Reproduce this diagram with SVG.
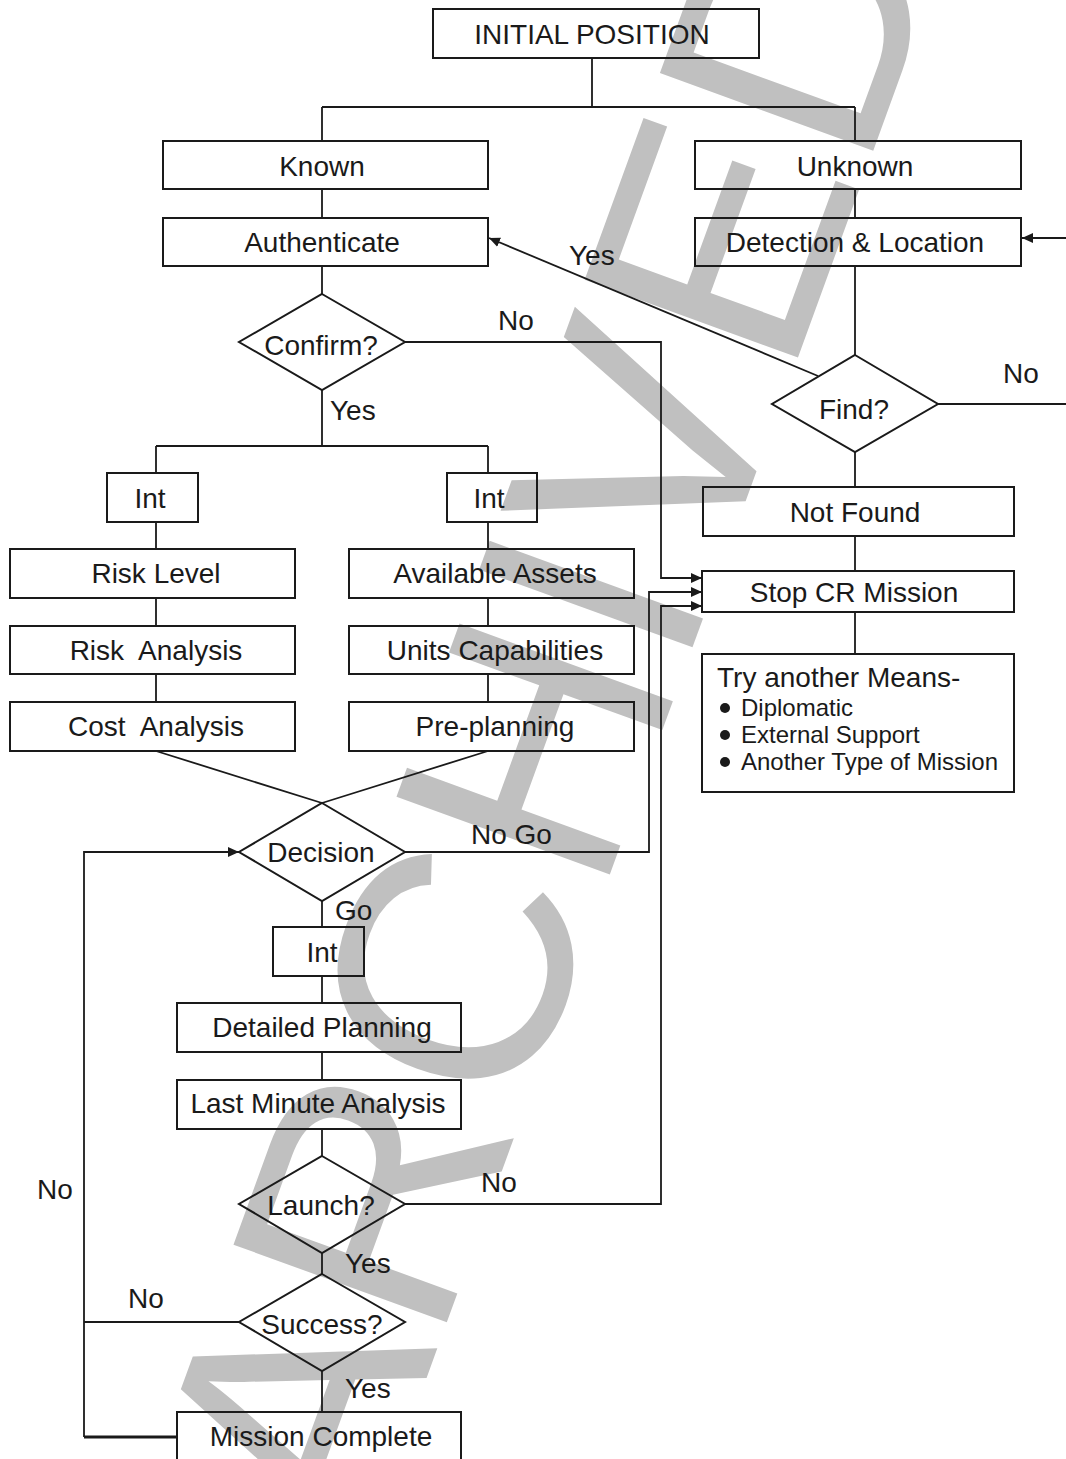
<svg xmlns="http://www.w3.org/2000/svg" width="1066" height="1459" viewBox="0 0 1066 1459">
<style>
.box{fill:none;stroke:#1a1a1a;stroke-width:2}
.ln{fill:none;stroke:#1a1a1a;stroke-width:1.8}
.t{font-family:"Liberation Sans",Arial,sans-serif;font-size:28px;fill:#1a1a1a;text-anchor:middle}
.l{font-family:"Liberation Sans",Arial,sans-serif;font-size:28px;fill:#1a1a1a}
.s{font-family:"Liberation Sans",Arial,sans-serif;font-size:24px;fill:#1a1a1a}
.wm{font-family:"Liberation Sans",Arial,sans-serif;font-size:330px;fill:#c0c0c0;text-anchor:middle}
</style>
<defs>
<marker id="ah" markerUnits="userSpaceOnUse" markerWidth="12" markerHeight="10" refX="11" refY="5" orient="auto">
<path d="M0,0 L11,5 L0,10 z" fill="#1a1a1a"/>
</marker>
</defs>
<rect width="1066" height="1459" fill="#fff"/>
<g id="watermark"><text class="wm" transform="translate(543,713) rotate(-70)" x="0" y="118">ARCHIVED</text></g>
<g id="connectors">
<path class="ln" d="M592,58 V107 M322,107 H855 M322,107 V141 M855,107 V141"/>
<path class="ln" d="M322,189 V218 M855,189 V218 M322,266 V294 M855,266 V355"/>
<path class="ln" d="M818,376 L489,238" marker-end="url(#ah)"/>
<path class="ln" d="M938,404 H1066"/>
<path class="ln" d="M1066,238 H1022" marker-end="url(#ah)"/>
<path class="ln" d="M405,342 H661 V578 H702" marker-end="url(#ah)"/>
<path class="ln" d="M322,390 V446 M156,446 H488 M156,446 V473 M488,446 V473"/>
<path class="ln" d="M156,522 V549 M156,598 V626 M156,674 V702 M488,522 V549 M488,598 V626 M488,674 V702"/>
<path class="ln" d="M156,751 L322,803 M488,751 L322,803"/>
<path class="ln" d="M405,852 H649 V592 H702" marker-end="url(#ah)"/>
<path class="ln" d="M322,901 V927 M322,976 V1003 M322,1052 V1080 M322,1129 V1156 M322,1253 V1274 M322,1371 V1412"/>
<path class="ln" d="M405,1204 H661 V606 H702" marker-end="url(#ah)"/>
<path class="ln" d="M239,1322 H84"/>
<path class="ln" d="M84,1437 V852 H239" marker-end="url(#ah)"/>
<path class="ln" d="M177,1437 H84" style="stroke-width:3"/>
<path class="ln" d="M855,452 V487 M855,536 V571 M855,612 V654"/>
</g>
<g id="n-initial"><rect class="box" x="433" y="9" width="326" height="49"/><text class="t" x="592" y="44">INITIAL POSITION</text></g>
<g id="n-known"><rect class="box" x="163" y="141" width="325" height="48"/><text class="t" x="322" y="176">Known</text></g>
<g id="n-unknown"><rect class="box" x="695" y="141" width="326" height="48"/><text class="t" x="855" y="176">Unknown</text></g>
<g id="n-auth"><rect class="box" x="163" y="218" width="325" height="48"/><text class="t" x="322" y="252">Authenticate</text></g>
<g id="n-detect"><rect class="box" x="695" y="218" width="326" height="48"/><text class="t" x="855" y="252">Detection &amp; Location</text></g>
<g id="n-confirm"><polygon class="box" points="322,294 405,342 322,390 239,342"/><text class="t" x="321" y="355">Confirm?</text></g>
<g id="n-find"><polygon class="box" points="855,355 938,404 855,452 772,404"/><text class="t" x="854" y="419">Find?</text></g>
<g id="n-notfound"><rect class="box" x="703" y="487" width="311" height="49"/><text class="t" x="855" y="522">Not Found</text></g>
<g id="n-int1"><rect class="box" x="107" y="473" width="91" height="49"/><text class="t" x="150" y="508">Int</text></g>
<g id="n-int2"><rect class="box" x="447" y="473" width="90" height="49"/><text class="t" x="489" y="508">Int</text></g>
<g id="n-risklevel"><rect class="box" x="10" y="549" width="285" height="49"/><text class="t" x="156" y="583">Risk Level</text></g>
<g id="n-riskanalysis"><rect class="box" x="10" y="626" width="285" height="48"/><text class="t" x="156" y="660" xml:space="preserve">Risk  Analysis</text></g>
<g id="n-costanalysis"><rect class="box" x="10" y="702" width="285" height="49"/><text class="t" x="156" y="736" xml:space="preserve">Cost  Analysis</text></g>
<g id="n-assets"><rect class="box" x="349" y="549" width="285" height="49"/><text class="t" x="495" y="583">Available Assets</text></g>
<g id="n-units"><rect class="box" x="349" y="626" width="285" height="48"/><text class="t" x="495" y="660">Units Capabilities</text></g>
<g id="n-preplan"><rect class="box" x="349" y="702" width="285" height="49"/><text class="t" x="495" y="736">Pre-planning</text></g>
<g id="n-stop"><rect class="box" x="702" y="571" width="312" height="41"/><text class="t" x="854" y="602">Stop CR Mission</text></g>
<g id="n-try"><rect class="box" x="702" y="654" width="312" height="138"/>
<text class="l" x="717" y="687">Try another Means-</text>
<circle cx="725" cy="708" r="5" fill="#1a1a1a"/><text class="s" x="741" y="716">Diplomatic</text>
<circle cx="725" cy="735" r="5" fill="#1a1a1a"/><text class="s" x="741" y="743">External Support</text>
<circle cx="725" cy="762" r="5" fill="#1a1a1a"/><text class="s" x="741" y="770">Another Type of Mission</text>
</g>
<g id="n-decision"><polygon class="box" points="322,803 405,852 322,901 239,852"/><text class="t" x="321" y="862">Decision</text></g>
<g id="n-int3"><rect class="box" x="273" y="927" width="91" height="49"/><text class="t" x="322" y="962">Int</text></g>
<g id="n-detailed"><rect class="box" x="177" y="1003" width="284" height="49"/><text class="t" x="322" y="1037">Detailed Planning</text></g>
<g id="n-lastmin"><rect class="box" x="177" y="1080" width="284" height="49"/><text class="t" x="318" y="1113">Last Minute Analysis</text></g>
<g id="n-launch"><polygon class="box" points="322,1156 405,1204 322,1253 239,1204"/><text class="t" x="321" y="1215">Launch?</text></g>
<g id="n-success"><polygon class="box" points="322,1274 405,1322 322,1371 239,1322"/><text class="t" x="322" y="1334">Success?</text></g>
<g id="n-mission"><rect class="box" x="177" y="1412" width="284" height="60"/><text class="t" x="321" y="1446">Mission Complete</text></g>
<g id="labels">
<text class="l" x="569" y="265">Yes</text>
<text class="l" x="498" y="330">No</text>
<text class="l" x="1003" y="383">No</text>
<text class="l" x="330" y="420">Yes</text>
<text class="l" x="471" y="844">No Go</text>
<text class="l" x="335" y="920">Go</text>
<text class="l" x="481" y="1192">No</text>
<text class="l" x="345" y="1273">Yes</text>
<text class="l" x="128" y="1308">No</text>
<text class="l" x="345" y="1398">Yes</text>
<text class="l" x="37" y="1199">No</text>
</g>
</svg>
